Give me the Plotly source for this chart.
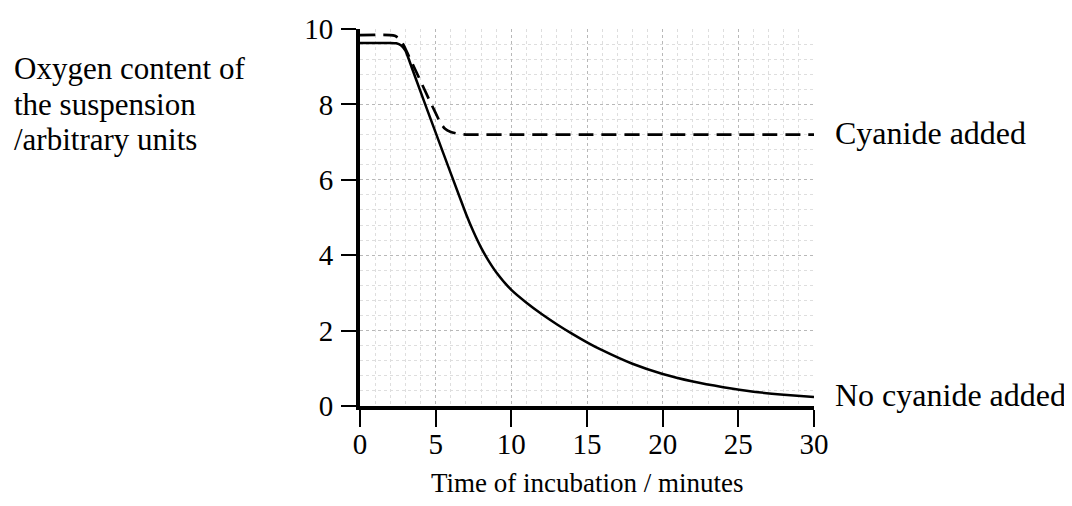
import plotly.graph_objects as go

# values
time_no_cn = [0, 2.0, 2.4, 2.7, 3.0, 3.4, 4.2, 5.0, 6.0, 7.0, 7.5, 8.0, 8.5, 9.0, 10, 11, 12, 13, 14, 15, 16, 18, 20, 22, 24, 26, 28, 30]
oxygen_no_cn = [9.63, 9.63, 9.62, 9.57, 9.43, 9.0, 8.12, 7.25, 6.17, 5.1, 4.62, 4.2, 3.85, 3.55, 3.08, 2.74, 2.44, 2.17, 1.92, 1.69, 1.48, 1.12, 0.85, 0.65, 0.5, 0.38, 0.3, 0.24]

time_cn = [0, 2.0, 2.3, 2.6, 2.9, 3.2, 3.5, 4.0, 4.6, 5.0, 5.3, 5.6, 6.0, 6.5, 7.0, 8, 10, 15, 20, 25, 30]
oxygen_cn = [9.84, 9.84, 9.82, 9.74, 9.56, 9.3, 9.05, 8.62, 8.1, 7.77, 7.52, 7.36, 7.27, 7.22, 7.2, 7.2, 7.2, 7.2, 7.2, 7.2, 7.2]

x_ticks = [0, 5, 10, 15, 20, 25, 30]
y_ticks = [0, 2, 4, 6, 8, 10]

FONT = "Liberation Serif, Times New Roman, serif"
txt = 32   # labels
tck = 29   # tick numbers

fig = go.Figure()

fig.add_trace(go.Scatter(x=time_cn, y=oxygen_cn, mode="lines",
                         line=dict(color="black", width=2.7, dash="15px,8px", shape="spline", smoothing=0.5),
                         showlegend=False, hoverinfo="skip"))
fig.add_trace(go.Scatter(x=time_no_cn, y=oxygen_no_cn, mode="lines",
                         line=dict(color="black", width=2.5, shape="spline", smoothing=0.5),
                         showlegend=False, hoverinfo="skip"))

# labels at line ends
fig.add_annotation(x=30, y=7.25, xref="x", yref="y", text="Cyanide added", showarrow=False,
                   xanchor="left", yanchor="middle", xshift=19, font=dict(family=FONT, size=txt, color="black"))
fig.add_annotation(x=30, y=0.3, xref="x", yref="y", text="No cyanide added", showarrow=False,
                   xanchor="left", yanchor="middle", xshift=19, font=dict(family=FONT, size=txt, color="black"))

# y title, one line per annotation
ylab = ["Oxygen content of", "the suspension", "/arbitrary units"]
ylab_pos = [0.894, 0.801, 0.708]
for s, yy in zip(ylab, ylab_pos):
    fig.add_annotation(x=-0.766, y=yy, xref="paper", yref="paper", text=s,
                       showarrow=False, xanchor="left", yanchor="middle", align="left",
                       font=dict(family=FONT, size=31, color="black"))

fig.add_annotation(x=0.5, y=-0.205, xref="paper", yref="paper", text="Time of incubation / minutes",
                   showarrow=False, xanchor="center", yanchor="middle",
                   font=dict(family=FONT, size=27, color="black"))

fig.update_xaxes(range=[0, 30], tickvals=x_ticks, ticks="outside", ticklen=17, tickwidth=1.5,
                 tickcolor="black", showline=True, linewidth=4, linecolor="black",
                 showgrid=True, gridcolor="#b8b8b8", griddash="dot", gridwidth=1,
                 minor=dict(dtick=1, showgrid=True, gridcolor="#dedede", griddash="dot", gridwidth=1),
                 zeroline=False, tickfont=dict(family=FONT, size=tck, color="black"),
                 ticklabelstandoff=-8, automargin=False, fixedrange=True)
fig.update_yaxes(range=[0, 10], tickvals=y_ticks, ticks="outside", ticklen=15, tickwidth=1.5,
                 tickcolor="black", showline=True, linewidth=4, linecolor="black",
                 showgrid=True, gridcolor="#b8b8b8", griddash="dot", gridwidth=1,
                 minor=dict(dtick=0.4, showgrid=True, gridcolor="#dedede", griddash="dot", gridwidth=1),
                 zeroline=False, tickfont=dict(family=FONT, size=tck, color="black"),
                 ticklabelstandoff=2, automargin=False, fixedrange=True)

# page body has an 8px margin, so the plot box is shifted back by 8px
fig.update_layout(width=1072, height=506, margin=dict(l=352, r=266, t=21, b=108),
                  plot_bgcolor="white", paper_bgcolor="white",
                  font=dict(family=FONT, size=tck, color="black"))

fig.write_html("out.html")
